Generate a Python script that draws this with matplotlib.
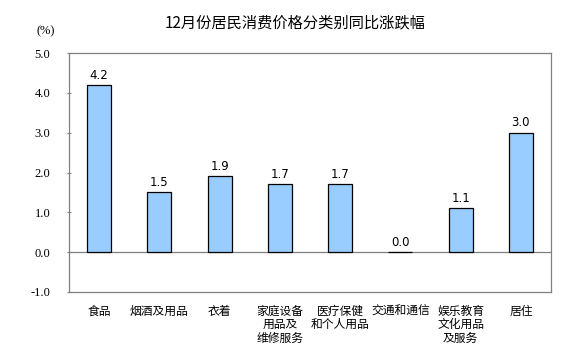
import matplotlib
matplotlib.use("Agg")
import matplotlib.pyplot as plt

plt.rcParams['font.family'] = ['Noto Sans CJK SC', 'DejaVu Sans']

categories = ["食品", "烟酒及用品", "衣着", "家庭设备\n用品及\n维修服务",
              "医疗保健\n和个人用品", "交通和通信", "娱乐教育\n文化用品\n及服务", "居住"]
values = [4.2, 1.5, 1.9, 1.7, 1.7, 0.0, 1.1, 3.0]
yticks = [-1.0, 0.0, 1.0, 2.0, 3.0, 4.0, 5.0]

fig = plt.figure(figsize=(5.81, 3.58), dpi=100)
ax = fig.add_axes([69/581, 1-292/358, (551-69)/581, (292-53)/358])

x = list(range(len(categories)))
ax.bar(x, values, width=0.4, color="#99CCFF", edgecolor="black", linewidth=0.9, zorder=3)
ax.axhline(0, color="#808080", linewidth=0.9, zorder=2)

for xi, v in zip(x, values):
    ax.text(xi, v + 0.08, f"{v:.1f}", ha="center", va="bottom", fontsize=8.5,
            family=["DejaVu Sans"], zorder=4)

ax.set_xlim(-0.5, len(categories) - 0.5)
ax.set_ylim(-1.0, 5.0)
ax.set_yticks(yticks)
ax.set_yticklabels([f"{t:.1f}" for t in yticks], family=["Liberation Serif"], fontsize=9)
ax.set_xticks(x)
ax.set_xticklabels(categories, fontsize=8.5, linespacing=1.05)
ax.tick_params(axis="x", length=0, pad=9)
ax.tick_params(axis="y", length=3, direction="inout", color="#808080", pad=12)
for s in ax.spines.values():
    s.set_color("#808080")
    s.set_linewidth(0.9)

fig.text(295/581, 1-23/358, "12月份居民消费价格分类别同比涨跌幅", ha="center", va="center",
         fontsize=11)
fig.text(46/581, 1-31/358, "(%)", ha="center", va="center", fontsize=9,
         family=["Liberation Serif"])

fig.savefig("out.png", dpi=100, facecolor="white")
